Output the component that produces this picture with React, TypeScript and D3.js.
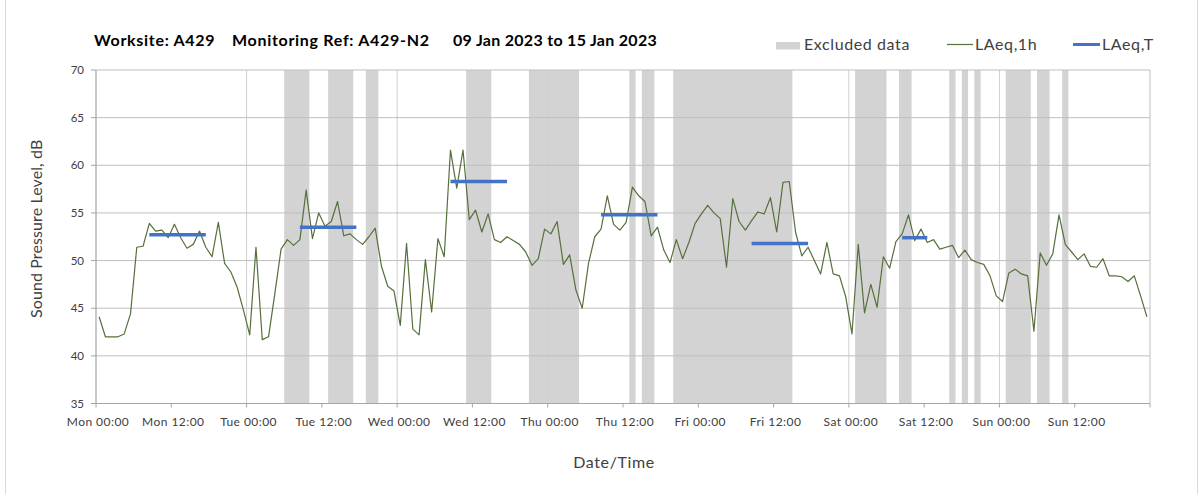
import React from "react";
import * as d3 from "d3";

// ---- Data ----
const laeq1h: number[] = [
  44.1, 42.0, 42.0, 42.0, 42.3, 44.4, 51.4, 51.5, 53.9, 53.1, 53.2, 52.4, 53.8, 52.4, 51.3, 51.7, 53.1, 51.4, 50.4, 54.0, 49.7, 48.8, 47.2, 44.8,
  42.2, 51.4, 41.7, 42.0, 46.5, 51.2, 52.2, 51.6, 52.2, 57.4, 52.3, 55.0, 53.6, 54.1, 56.2, 52.6, 52.8, 52.2, 51.7, 52.5, 53.4, 49.4, 47.3, 46.8,
  43.2, 51.8, 42.8, 42.2, 50.1, 44.6, 52.3, 50.4, 61.6, 57.6, 61.6, 54.3, 55.3, 53.0, 54.9, 52.2, 51.9, 52.5, 52.1, 51.7, 50.9, 49.5, 50.2, 53.3,
  52.8, 54.1, 49.6, 50.6, 46.9, 45.0, 49.7, 52.5, 53.3, 56.8, 53.8, 53.2, 54.0, 57.7, 56.8, 56.2, 52.6, 53.5, 51.1, 49.8, 52.2, 50.2, 51.9, 53.9,
  54.9, 55.8, 55.0, 54.4, 49.3, 56.5, 54.1, 53.2, 54.2, 55.1, 54.9, 56.6, 53.0, 58.2, 58.3, 53.0, 50.5, 51.4, 50.0, 48.6, 51.9, 48.6, 48.4, 46.2,
  42.3, 51.7, 44.5, 47.5, 45.1, 50.4, 49.2, 52.0, 52.8, 54.8, 52.1, 53.3, 51.9, 52.2, 51.2, 51.4, 51.6, 50.3, 51.1, 50.1, 49.8, 49.6, 48.4, 46.3,
  45.7, 48.7, 49.1, 48.6, 48.4, 42.6, 50.8, 49.5, 50.7, 54.8, 51.7, 50.9, 50.1, 50.7, 49.4, 49.3, 50.2, 48.4, 48.4, 48.3, 47.8, 48.4, 46.3, 44.1,
];

// excluded periods [start hour, end hour] from Mon 00:00
const excludedStart: number[] = [30, 37, 43, 59, 69, 85, 87, 92, 121, 128, 136, 138, 140, 145, 150, 154];
const excludedEnd: number[] = [34, 41, 45, 63, 77, 86, 89, 111, 126, 130, 137, 139, 141, 149, 152, 155];

// LAeq,T periods
const periodStart: number[] = [8, 32, 56, 80, 104, 128];
const periodEnd: number[] = [18, 42, 66, 90, 114, 133];
const periodValue: number[] = [52.7, 53.5, 58.3, 54.8, 51.8, 52.4];

const yTicks: number[] = [35, 40, 45, 50, 55, 60, 65, 70];
const xTickLabels: string[] = [
  "Mon 00:00", "Mon 12:00", "Tue 00:00", "Tue 12:00", "Wed 00:00", "Wed 12:00", "Thu 00:00",
  "Thu 12:00", "Fri 00:00", "Fri 12:00", "Sat 00:00", "Sat 12:00", "Sun 00:00", "Sun 12:00",
];

const W = 1203;
const H = 494;
const FONT = "Lato, 'Open Sans', sans-serif";

export default function App() {
  const x = d3.scaleLinear().domain([0, 168]).range([96, 1150]);
  const y = d3.scaleLinear().domain([35, 70]).range([403.5, 70]);
  const [x0, x1] = x.range();
  const [yb, yt] = y.range();

  const line = d3
    .line<number>()
    .x((_, i) => x(i + 0.5))
    .y((d) => y(d));

  const tickHours = d3.range(0, 169, 12);
  const dayLines = d3.range(24, 168, 24);

  return (
    <div style={{ position: "absolute", left: 0, top: 0 }}>
      <svg width={W} height={H} style={{ display: "block", fontFamily: FONT }}>
        <rect x={0} y={0} width={W} height={H} fill="#fff" />
        <rect x={5.5} y={-2} width={W - 11} height={H + 4} fill="none" stroke="#d9d9d9" />

        {/* Excluded */}
        {excludedStart.map((s, i) => (
          <rect key={"ex" + i} x={x(s)} y={yt} width={x(excludedEnd[i]) - x(s)} height={yb - yt} fill="#d3d3d3" />
        ))}

        {/* grid */}
        {dayLines.map((h) => (
          <line key={"v" + h} x1={x(h)} x2={x(h)} y1={yt} y2={yb} stroke="#d0d0d0" strokeWidth={1} />
        ))}
        {yTicks.slice(1).map((t) => (
          <line key={"h" + t} x1={x0} x2={x1} y1={y(t)} y2={y(t)} stroke="#bfbfbf" strokeWidth={1} />
        ))}
        <line x1={x1} x2={x1} y1={yt} y2={yb} stroke="#bfbfbf" />

        {/* axes */}
        <line x1={x0} x2={x0} y1={yt} y2={yb} stroke="#a6a6a6" strokeWidth={1.2} />
        <line x1={x0} x2={x1} y1={yb} y2={yb} stroke="#a6a6a6" strokeWidth={1.2} />
        {yTicks.map((t) => (
          <g key={"yt" + t}>
            <line x1={x0 - 5} x2={x0} y1={y(t)} y2={y(t)} stroke="#a6a6a6" />
            <text x={84} y={y(t)} dy="0.35em" textAnchor="end" fontSize={11.5} fill="#404040">
              {t}
            </text>
          </g>
        ))}
        {tickHours.map((h, i) => (
          <g key={"xt" + h}>
            <line x1={x(h)} x2={x(h)} y1={yb} y2={yb + 4} stroke="#a6a6a6" />
            {xTickLabels[i] && (
              <text x={x(h) + 2} y={426} textAnchor="middle" fontSize={12} letterSpacing={0.45} fill="#404040">
                {xTickLabels[i]}
              </text>
            )}
          </g>
        ))}

        {/* data line */}
        <path d={line(laeq1h) || ""} fill="none" stroke="#56703c" strokeWidth={1.2} strokeLinejoin="round" />

        {/* LAeq,T */}
        {periodStart.map((s, i) => (
          <line key={"p" + i} x1={x(s + 0.5)} x2={x(periodEnd[i] - 0.5)} y1={y(periodValue[i])} y2={y(periodValue[i])} stroke="#4472c4" strokeWidth={3.5} />
        ))}

        {/* Axis titles */}
        <text x={614} y={468} textAnchor="middle" fontSize={16} letterSpacing={0.6} fill="#404040">Date/Time</text>
        <text transform={`translate(42,${(yt + yb) / 2 - 8}) rotate(-90)`} textAnchor="middle" fontSize={16} letterSpacing={0.1} fill="#404040">
          Sound Pressure Level, dB
        </text>

        {/* Title */}
        <g fontWeight="bold" fontSize={16} fill="#000">
          <text x={94} y={46} letterSpacing={0.7}>Worksite: A429</text>
          <text x={232} y={46} letterSpacing={0.7}>Monitoring Ref: A429-N2</text>
          <text x={453} y={46} letterSpacing={0.3}>09 Jan 2023 to 15 Jan 2023</text>
        </g>

        {/* Legend */}
        <rect x={776} y={42} width={24} height={7.5} fill="#d3d3d3" />
        <text x={804} y={50} fontSize={16} letterSpacing={0.6} fill="#404040">Excluded data</text>
        <line x1={947} x2={973} y1={44.5} y2={44.5} stroke="#56703c" strokeWidth={1.2} />
        <text x={975} y={50} fontSize={16} letterSpacing={0.6} fill="#404040">LAeq,1h</text>
        <line x1={1073} x2={1100} y1={44.5} y2={44.5} stroke="#4472c4" strokeWidth={3} />
        <text x={1102} y={50} fontSize={16} letterSpacing={0.6} fill="#404040">LAeq,T</text>
      </svg>
    </div>
  );
}
